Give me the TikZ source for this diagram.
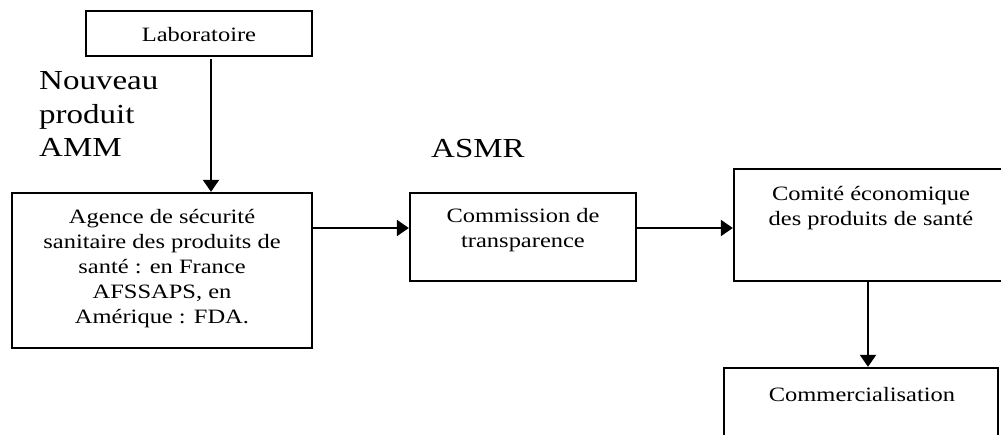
\documentclass[tikz,border=0pt]{standalone}
\usepackage{fontspec}
\setmainfont[FakeStretch=1.2]{Liberation Serif}
\usetikzlibrary{arrows.meta}
\begin{document}
\begin{tikzpicture}[x=1pt,y=-1pt,
  box/.style={draw=black, line width=2.3pt, inner sep=0pt, rectangle},
  boxtext/.style={align=center, inner sep=0pt, font=\fontsize{20.4}{25}\selectfont},
  bigtext/.style={align=left, inner sep=0pt, font=\fontsize{27.5}{33.5}\selectfont},
  arr/.style={line width=2pt, -{Triangle[length=12pt,width=16pt]}}]
\useasboundingbox (0,0) rectangle (1001,434);
\clip (0,0) rectangle (1001,434);
% boxes
\node[box, minimum width=226pt, minimum height=45pt] (lab) at (199,33.5) {};
\node[box, minimum width=300pt, minimum height=155pt] (ag) at (162,270.5) {};
\node[box, minimum width=226pt, minimum height=88pt] (com) at (523,237) {};
\node[box, minimum width=271pt, minimum height=112pt] (cte) at (869.5,225) {};
\node[box, minimum width=274pt, minimum height=77pt] (cml) at (861,406.5) {};
% box texts
\node[boxtext] (labt) at (199,35) {Laboratoire};
\node[boxtext] (agt) at (162,268.5) {Agence de sécurité\\sanitaire des produits de\\santé : en France\\AFSSAPS, en\\Amérique : FDA.};
\node[boxtext] (comt) at (523,230.5) {Commission de\\transparence};
\node[boxtext] (ctet) at (871,208) {Comité économique\\des produits de santé};
\node[boxtext] (cmlt) at (862,395) {Commercialisation};
% free labels
\node[bigtext, anchor=west] (npa) at (39,114) {Nouveau\\produit\\AMM};
\node[bigtext, anchor=base west] (asmr) at (431,157) {ASMR};
% connectors
\coordinate (v1) at (211,0);
\coordinate (h1) at (0,228);
\coordinate (v2) at (868,0);
\draw[arr, shorten <=2pt] (v1 |- lab.south) -- (v1 |- ag.north);
\draw[arr] (ag.east |- h1) -- (com.west |- h1);
\draw[arr] (com.east |- h1) -- (cte.west |- h1);
\draw[arr] (v2 |- cte.south) -- (v2 |- cml.north);
\end{tikzpicture}
\end{document}
